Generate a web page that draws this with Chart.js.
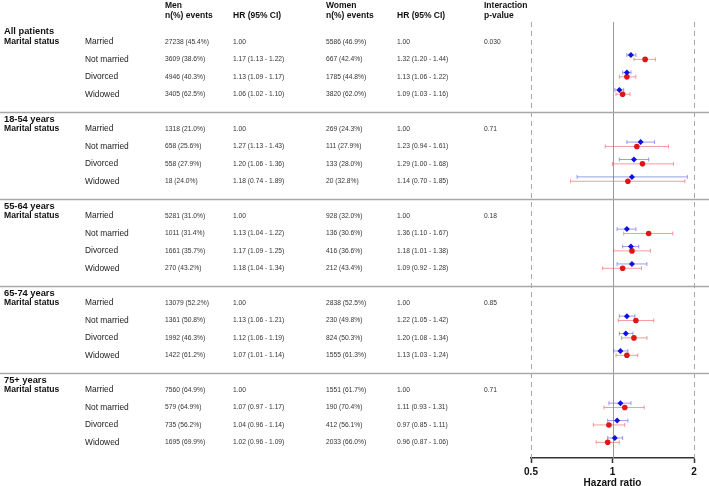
<!DOCTYPE html>
<html>
<head>
<meta charset="utf-8">
<script src="https://cdn.jsdelivr.net/npm/chart.js@4.4.0/dist/chart.umd.min.js"></script>
<style>
  body { margin: 0; background: #fff; }
  #wrap { width: 709px; height: 486px; position: relative; }
</style>
</head>
<body>
<div id="wrap"><canvas id="forestChart"></canvas></div>
<script>
// Table and forest plot data
const sections = ["All patients", "18-54 years", "55-64 years", "65-74 years", "75+ years"];
const categories = ["Married", "Not married", "Divorced", "Widowed"];
const interactionP = ["0.030", "0.71", "0.18", "0.85", "0.71"];

// Men: events text, HR, lower CI, upper CI (per section, per category)
const menEvents = [
    ["27238 (45.4%)", "3609 (38.6%)", "4946 (40.3%)", "3405 (62.5%)"],
    ["1318 (21.0%)", "658 (25.6%)", "558 (27.9%)", "18 (24.0%)"],
    ["5281 (31.0%)", "1011 (31.4%)", "1661 (35.7%)", "270 (43.2%)"],
    ["13079 (52.2%)", "1361 (50.8%)", "1992 (46.3%)", "1422 (61.2%)"],
    ["7560 (64.9%)", "579 (64.9%)", "735 (56.2%)", "1695 (69.9%)"]
];
const menHR = [
    [1.00, 1.17, 1.13, 1.06],
    [1.00, 1.27, 1.20, 1.18],
    [1.00, 1.13, 1.17, 1.18],
    [1.00, 1.13, 1.12, 1.07],
    [1.00, 1.07, 1.04, 1.02]
];
const menLow = [
    [null, 1.13, 1.09, 1.02],
    [null, 1.13, 1.06, 0.74],
    [null, 1.04, 1.09, 1.04],
    [null, 1.06, 1.06, 1.01],
    [null, 0.97, 0.96, 0.96]
];
const menHigh = [
    [null, 1.22, 1.17, 1.10],
    [null, 1.43, 1.36, 1.89],
    [null, 1.22, 1.25, 1.34],
    [null, 1.21, 1.19, 1.14],
    [null, 1.17, 1.14, 1.09]
];

// Women
const womenEvents = [
    ["5586 (46.9%)", "667 (42.4%)", "1785 (44.8%)", "3820 (62.0%)"],
    ["269 (24.3%)", "111 (27.9%)", "133 (28.0%)", "20 (32.8%)"],
    ["928 (32.0%)", "136 (30.6%)", "416 (36.6%)", "212 (43.4%)"],
    ["2838 (52.5%)", "230 (49.8%)", "824 (50.3%)", "1555 (61.3%)"],
    ["1551 (61.7%)", "190 (70.4%)", "412 (56.1%)", "2033 (66.0%)"]
];
const womenHR = [
    [1.00, 1.32, 1.13, 1.09],
    [1.00, 1.23, 1.29, 1.14],
    [1.00, 1.36, 1.18, 1.09],
    [1.00, 1.22, 1.20, 1.13],
    [1.00, 1.11, 0.97, 0.96]
];
const womenLow = [
    [null, 1.20, 1.06, 1.03],
    [null, 0.94, 1.00, 0.70],
    [null, 1.10, 1.01, 0.92],
    [null, 1.05, 1.08, 1.03],
    [null, 0.93, 0.85, 0.87]
];
const womenHigh = [
    [null, 1.44, 1.22, 1.16],
    [null, 1.61, 1.68, 1.85],
    [null, 1.67, 1.38, 1.28],
    [null, 1.42, 1.34, 1.24],
    [null, 1.31, 1.11, 1.06]
];

const xTicks = [0.5, 1, 2];
const refLines = [0.5, 1, 2];

// Row layout in "row units" on the y scale
const ROWS_PER_SECTION = 5;
const MEN_OFFSET = -0.25;

function hrText(hr, lo, hi) {
    if (lo === null) return hr.toFixed(2);
    return `${hr.toFixed(2)} (${lo.toFixed(2)} - ${hi.toFixed(2)})`;
}

// Build point + error bar data (married reference rows are not drawn)
function buildPoints(hrs, lows, highs, offset) {
    const pts = [];
    hrs.forEach((row, s) => {
        row.forEach((hr, i) => {
            if (lows[s][i] === null) return;
            pts.push({ x: hr, y: s * ROWS_PER_SECTION + i + offset, lo: lows[s][i], hi: highs[s][i] });
        });
    });
    return pts;
}

const menPoints = buildPoints(menHR, menLow, menHigh, MEN_OFFSET);
const womenPoints = buildPoints(womenHR, womenLow, womenHigh, 0);

const FONT = "'Liberation Sans', Arial, sans-serif";

// Draws reference lines, separators, the table text and the CI whiskers
const forestPlugin = {
    id: 'forestPlugin',
    beforeDatasetsDraw(chart) {
        const ctx = chart.ctx;
        const xs = chart.scales.x, ys = chart.scales.y;
        const area = chart.chartArea;
        ctx.save();

        // vertical reference lines
        refLines.forEach(v => {
            const px = Math.round(xs.getPixelForValue(v)) + 0.5;
            ctx.beginPath();
            ctx.strokeStyle = v === 1 ? '#9a9a9a' : '#a8a8a8';
            ctx.lineWidth = 1;
            ctx.setLineDash(v === 1 ? [] : [5, 4]);
            ctx.moveTo(px, area.top);
            ctx.lineTo(px, area.bottom);
            ctx.stroke();
        });
        ctx.setLineDash([]);

        // horizontal section separators
        for (let s = 0; s < sections.length - 1; s++) {
            const py = Math.round(ys.getPixelForValue(s * ROWS_PER_SECTION + 4)) + 0.5;
            ctx.beginPath();
            ctx.strokeStyle = '#a8a8a8';
            ctx.lineWidth = 1.5;
            ctx.moveTo(0, py);
            ctx.lineTo(chart.width, py);
            ctx.stroke();
        }

        // error bars
        const drawBars = (pts, color) => {
            ctx.strokeStyle = color;
            ctx.lineWidth = 1;
            pts.forEach(p => {
                const py = ys.getPixelForValue(p.y);
                const x1 = xs.getPixelForValue(p.lo), x2 = xs.getPixelForValue(p.hi);
                ctx.beginPath();
                ctx.moveTo(x1, py); ctx.lineTo(x2, py);
                ctx.moveTo(x1, py - 2); ctx.lineTo(x1, py + 2);
                ctx.moveTo(x2, py - 2); ctx.lineTo(x2, py + 2);
                ctx.stroke();
            });
        };
        drawBars(menPoints, 'rgba(90,90,235,0.6)');
        drawBars(womenPoints, 'rgba(240,90,90,0.6)');

        // table headers
        ctx.fillStyle = '#111';
        ctx.textBaseline = 'middle';
        ctx.textAlign = 'left';
        ctx.font = `bold 8.5px ${FONT}`;
        ctx.fillText('Men', 165, 6);
        ctx.fillText('n(%) events', 165, 16);
        ctx.fillText('HR (95% CI)', 233, 16);
        ctx.fillText('Women', 326, 6);
        ctx.fillText('n(%) events', 326, 16);
        ctx.fillText('HR (95% CI)', 397, 16);
        ctx.fillText('Interaction', 484, 6);
        ctx.fillText('p-value', 484, 16);

        // table rows
        sections.forEach((name, s) => {
            const base = s * ROWS_PER_SECTION;
            ctx.fillStyle = '#111';
            ctx.font = `bold 9.3px ${FONT}`;
            ctx.fillText(name, 4, ys.getPixelForValue(base - 0.58));
            ctx.font = `bold 8.6px ${FONT}`;
            ctx.fillText('Marital status', 4, ys.getPixelForValue(base));
            categories.forEach((cat, i) => {
                const py = ys.getPixelForValue(base + i);
                ctx.fillStyle = '#222';
                ctx.font = `8.4px ${FONT}`;
                ctx.fillText(cat, 85, py);
                ctx.fillStyle = '#333';
                ctx.font = `6.7px ${FONT}`;
                ctx.fillText(menEvents[s][i], 165, py);
                ctx.fillText(hrText(menHR[s][i], menLow[s][i], menHigh[s][i]), 233, py);
                ctx.fillText(womenEvents[s][i], 326, py);
                ctx.fillText(hrText(womenHR[s][i], womenLow[s][i], womenHigh[s][i]), 397, py);
            });
            ctx.fillText(interactionP[s], 484, ys.getPixelForValue(base));
        });
        ctx.restore();
    }
};

const ctx = document.getElementById('forestChart').getContext('2d');
new Chart(ctx, {
    type: 'scatter',
    data: {
        datasets: [
            {
                label: 'Men',
                data: menPoints,
                backgroundColor: '#1010e0',
                borderColor: '#1010e0',
                pointStyle: 'rectRot',
                pointRadius: 3,
                borderWidth: 0
            },
            {
                label: 'Women',
                data: womenPoints,
                backgroundColor: '#e01515',
                borderColor: '#e01515',
                pointStyle: 'circle',
                pointRadius: 2.8,
                borderWidth: 0
            }
        ]
    },
    options: {
        responsive: true,
        maintainAspectRatio: false,
        animation: false,
        devicePixelRatio: 1,
        layout: { padding: { left: 531, right: 15, top: 22, bottom: -2 } },
        plugins: {
            legend: { display: false },
            tooltip: { enabled: false }
        },
        scales: {
            x: {
                type: 'logarithmic',
                min: 0.5,
                max: 2,
                afterBuildTicks: scale => { scale.ticks = xTicks.map(v => ({ value: v })); },
                grid: { display: true, drawOnChartArea: false, drawTicks: true, tickLength: 5, tickColor: '#333', tickWidth: 1.5 },
                border: { display: true, color: '#333', width: 1.5 },
                ticks: {
                    color: '#111',
                    font: { family: FONT, size: 10, weight: 'bold' },
                    padding: 3,
                    maxRotation: 0,
                    autoSkip: false,
                    callback: v => String(v)
                },
                title: {
                    display: true,
                    text: 'Hazard ratio',
                    color: '#111',
                    font: { family: FONT, size: 10, weight: 'bold', lineHeight: 1 },
                    padding: { top: -3, bottom: 0 }
                }
            },
            y: {
                type: 'linear',
                display: false,
                reverse: true,
                min: -1.15,
                max: 23.9
            }
        }
    },
    plugins: [forestPlugin]
});
</script>
</body>
</html>
